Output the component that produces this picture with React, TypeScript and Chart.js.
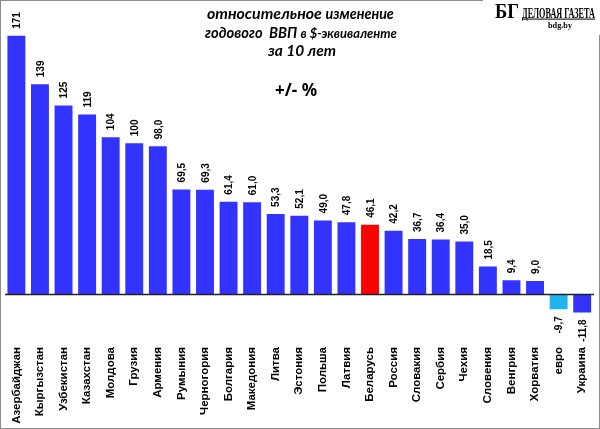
import React, { useEffect, useRef } from "react";
import { Chart, registerables } from "chart.js";

Chart.register(...registerables);

const categories = [
  "Азербайджан", "Кыргызстан", "Узбекистан", "Казахстан", "Молдова", "Грузия",
  "Армения", "Румыния", "Черногория", "Болгария", "Македония", "Литва",
  "Эстония", "Польша", "Латвия", "Беларусь", "Россия", "Словакия", "Сербия",
  "Чехия", "Словения", "Венгрия", "Хорватия", "евро", "Украина",
];
const values = [
  171, 139, 125, 119, 104, 100, 98.0, 69.5, 69.3, 61.4, 61.0, 53.3, 52.1,
  49.0, 47.8, 46.1, 42.2, 36.7, 36.4, 35.0, 18.5, 9.4, 9.0, -9.7, -11.8,
];
const valueLabels = [
  "171", "139", "125", "119", "104", "100", "98,0", "69,5", "69,3", "61,4",
  "61,0", "53,3", "52,1", "49,0", "47,8", "46,1", "42,2", "36,7", "36,4",
  "35,0", "18,5", "9,4", "9,0", "-9,7", "-11,8",
];
// each title line: [big part, smaller part]
const titleLines: [string, string][] = [
  ["относительное ", "изменение"],
  ["годового  ВВП ", "в $-эквиваленте"],
  ["за 10 лет", ""],
];
const unitLabel = "+/- %";
const logoMark = "БГ";
const logoName = "ДЕЛОВАЯ ГАЗЕТА";
const logoSite = "bdg.by";

const BLUE = "#3333FF";
const highlight: Record<string, string> = { "Беларусь": "#FF0000", "евро": "#1EB4F0" };

const TFAM = "Lato, 'Noto Sans', sans-serif";

function drawLine(ctx: CanvasRenderingContext2D, parts: [string, string], left: number, y: number, w: number, ratio: number) {
  ctx.font = `italic bold 20px ${TFAM}`;
  const a = ctx.measureText(parts[0]).width;
  ctx.font = `italic bold ${20 * ratio}px ${TFAM}`;
  const b = parts[1] ? ctx.measureText(parts[1]).width : 0;
  const k = w / (a + b);
  ctx.textAlign = "left";
  ctx.textBaseline = "alphabetic";
  ctx.font = `italic bold ${20 * k}px ${TFAM}`;
  ctx.fillText(parts[0], left, y);
  if (parts[1]) {
    ctx.font = `italic bold ${20 * k * ratio}px ${TFAM}`;
    ctx.fillText(parts[1], left + a * k, y);
  }
}

export default function App() {
  const ref = useRef<HTMLCanvasElement>(null);

  useEffect(() => {
    const canvas = ref.current;
    if (!canvas) return;

    const decor = {
      id: "decor",
      beforeDraw(chart: any) {
        const ctx = chart.ctx;
        ctx.save();
        ctx.fillStyle = "#ffffff";
        ctx.fillRect(0, 0, chart.width, chart.height);
        ctx.restore();
      },
      afterDatasetsDraw(chart: any) {
        const ctx = chart.ctx;
        const ys = chart.scales.y;
        const y0 = ys.getPixelForValue(0);
        ctx.save();
        ctx.strokeStyle = "#222222";
        ctx.lineWidth = 1.5;
        ctx.beginPath();
        ctx.moveTo(5, y0);
        ctx.lineTo(chart.chartArea.right, y0);
        ctx.stroke();

        const meta = chart.getDatasetMeta(0);
        ctx.fillStyle = "#000";
        ctx.font = "bold 10px 'Liberation Sans', Arial, sans-serif";
        ctx.textBaseline = "middle";
        meta.data.forEach((bar: any, i: number) => {
          const v = values[i];
          ctx.save();
          ctx.translate(bar.x + 1, bar.y + (v >= 0 ? -7 : 7));
          ctx.rotate(-Math.PI / 2);
          ctx.textAlign = v >= 0 ? "left" : "right";
          ctx.fillText(valueLabels[i], 0, 0);
          ctx.restore();
        });
        ctx.restore();
      },
      afterDraw(chart: any) {
        const ctx = chart.ctx;
        ctx.save();
        // outer border
        ctx.strokeStyle = "#8c8c8c";
        ctx.lineWidth = 1;
        ctx.strokeRect(0.5, 0.5, chart.width - 1, chart.height - 1);

        // titles
        ctx.fillStyle = "#000";
        drawLine(ctx, titleLines[0], 207, 18.5, 187, 0.9);
        drawLine(ctx, titleLines[1], 205, 37.5, 192, 0.88);
        drawLine(ctx, titleLines[2], 268, 56, 68, 1);
        ctx.font = "bold 17px 'Noto Sans', 'DejaVu Sans', sans-serif";
        ctx.textAlign = "center";
        ctx.textBaseline = "middle";
        ctx.fillText(unitLabel, 296, 91);

        // logo
        ctx.fillStyle = "#ffffff";
        ctx.fillRect(483, 0, chart.width - 483, 35);
        ctx.fillStyle = "#000";
        ctx.textAlign = "left";
        ctx.textBaseline = "alphabetic";
        ctx.save();
        ctx.translate(495, 17.5);
        ctx.font = "bold 21px 'Liberation Serif', serif";
        const wm = ctx.measureText(logoMark).width;
        ctx.scale(24 / wm, 1);
        ctx.fillText(logoMark, 0, 0);
        ctx.restore();
        ctx.save();
        ctx.translate(522, 17.5);
        ctx.font = "bold 14px 'Liberation Serif', serif";
        const wn = ctx.measureText(logoName).width;
        ctx.scale(73 / wn, 1);
        ctx.fillText(logoName, 0, 0);
        ctx.restore();
        ctx.fillRect(522, 18.6, 73, 1);
        ctx.save();
        ctx.translate(548, 27.5);
        ctx.font = "bold 9px 'Liberation Serif', serif";
        const ws = ctx.measureText(logoSite).width;
        ctx.scale(24 / ws, 1);
        ctx.fillText(logoSite, 0, 0);
        ctx.restore();
        ctx.restore();
      },
    };

    const chart = new Chart(canvas, {
      type: "bar",
      data: {
        labels: categories,
        datasets: [
          {
            data: values,
            backgroundColor: categories.map((c) => highlight[c] ?? BLUE),
            borderWidth: 0,
            barPercentage: 0.76,
            categoryPercentage: 1,
          },
        ],
      },
      options: {
        responsive: false,
        animation: false,
        layout: { padding: { top: 7, left: 4.6, right: 0.3, bottom: 0 } },
        plugins: { legend: { display: false }, tooltip: { enabled: false } },
        scales: {
          x: {
            grid: { display: false, drawTicks: false },
            border: { display: false },
            ticks: {
              color: "#000",
              font: { family: "'Liberation Sans', Arial, sans-serif", size: 11.5, weight: "bold" },
              minRotation: 90,
              maxRotation: 90,
              autoSkip: false,
              padding: 4,
            },
            afterFit: (scale: any) => {
              scale.height = 86;
            },
          },
          y: {
            display: false,
            min: -32,
            max: 190,
          },
        },
      },
      plugins: [decor],
    });

    return () => chart.destroy();
  }, []);

  return (
    <div style={{ position: "fixed", left: 0, top: 0, width: 600, height: 429 }}>
      <canvas ref={ref} width={600} height={429} style={{ width: 600, height: 429, display: "block" }} />
    </div>
  );
}
